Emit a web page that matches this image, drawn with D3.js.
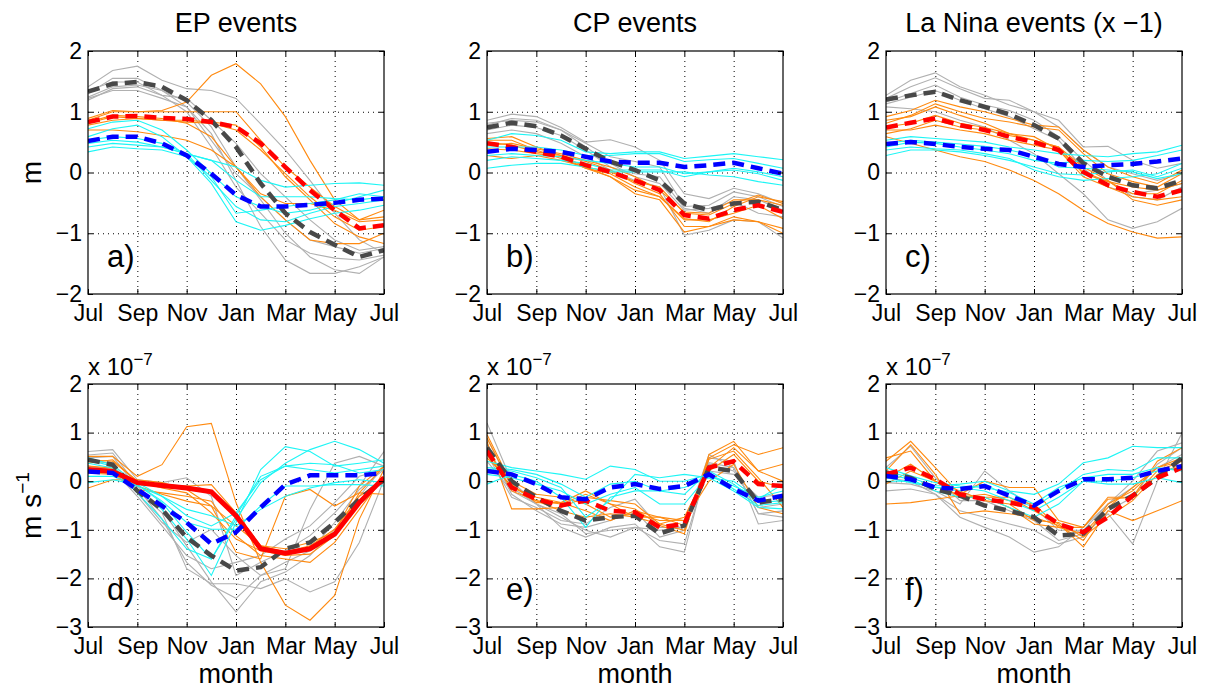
<!DOCTYPE html>
<html>
<head>
<meta charset="utf-8">
<script src="https://cdn.jsdelivr.net/npm/d3@7"></script>
<style>
body { margin: 0; background: #fff; }
text { font-family: "Liberation Sans", Arial, Helvetica, sans-serif; fill: #000; }
</style>
</head>
<body>
<div id="chart"></div>
<script>
// month index 0..12 = Jul .. Jul
var tickMonths = [0, 2, 4, 6, 8, 10, 12];
var tickLabels = ["Jul", "Sep", "Nov", "Jan", "Mar", "May", "Jul"];
var titles = ["EP events", "CP events", "La Nina events (x \u22121)"];
var letters = ["a)", "b)", "c)", "d)", "e)", "f)"];

// ---- a) EP, sea level (m)
var aGray = [
  [1.41,1.68,1.75,1.52,1.38,1.35,1.22,0.80,0.37,-0.13,-0.67,-1.11,-1.33],
  [1.24,1.41,1.44,1.35,1.16,0.75,0.09,-0.45,-1.00,-1.39,-1.60,-1.66,-1.39],
  [1.30,1.55,1.55,1.35,1.08,0.64,-0.13,-0.89,-1.44,-1.66,-1.66,-1.55,-1.39],
  [1.35,1.49,1.49,1.27,1.00,0.42,-0.24,-0.67,-1.11,-1.33,-1.41,-1.44,-1.36],
  [1.19,1.38,1.41,1.27,1.22,0.86,0.48,-0.02,-0.40,-0.78,-1.11,-1.28,-1.22],
  [1.22,1.35,1.35,1.22,1.08,0.53,-0.02,-0.40,-0.78,-1.11,-1.22,-1.33,-1.25]
];
var aOrange = [
  [0.86,1.00,1.00,1.02,1.16,1.60,1.79,1.46,0.92,0.20,-0.45,-0.78,-0.62],
  [0.89,1.02,1.00,1.00,1.00,1.00,1.00,0.53,0.09,-0.24,-0.56,-0.78,-0.73],
  [0.81,0.92,0.89,0.86,0.83,0.81,0.70,0.37,-0.02,-0.40,-0.73,-0.95,-0.89],
  [0.78,0.86,0.89,0.86,0.86,0.83,0.78,0.42,-0.07,-0.45,-0.84,-1.06,-1.17],
  [0.70,0.70,0.67,0.61,0.53,0.37,0.09,-0.35,-0.51,-0.51,-0.62,-0.81,-0.78],
  [0.83,0.94,0.92,0.89,0.81,0.59,0.09,-0.40,-0.78,-1.11,-1.17,-1.17,-1.00]
];
var aCyan = [
  [0.72,0.83,0.86,0.70,0.37,-0.02,-0.40,-0.56,-0.67,-0.62,-0.51,-0.40,-0.29],
  [0.53,0.59,0.56,0.48,0.31,-0.13,-0.56,-0.78,-0.81,-0.67,-0.56,-0.51,-0.45],
  [0.42,0.48,0.45,0.42,0.31,0.20,0.09,-0.13,-0.24,-0.21,-0.18,-0.17,-0.21],
  [0.34,0.42,0.39,0.37,0.26,-0.18,-0.81,-0.95,-0.87,-0.76,-0.67,-0.62,-0.54],
  [0.48,0.53,0.50,0.42,0.31,0.20,-0.13,-0.40,-0.40,-0.40,-0.43,-0.45,-0.40],
  [0.59,0.72,0.78,0.59,0.26,-0.07,-0.67,-0.62,-0.56,-0.51,-0.45,-0.35,-0.40]
];
var aGrayMean = [1.33,1.46,1.49,1.41,1.19,0.86,0.42,-0.18,-0.67,-0.98,-1.19,-1.39,-1.28];
var aRedMean  = [0.83,0.92,0.93,0.90,0.88,0.83,0.75,0.48,0.09,-0.29,-0.62,-0.92,-0.87];
var aBlueMean = [0.52,0.59,0.59,0.48,0.28,-0.02,-0.37,-0.56,-0.56,-0.53,-0.50,-0.45,-0.43];

// ---- b) CP, sea level
var bGray = [
  [0.86,0.96,0.92,0.74,0.50,0.54,0.42,0.20,-0.35,-0.43,-0.26,-0.35,-0.51],
  [0.78,0.89,0.86,0.70,0.48,0.26,0.18,0.09,-0.56,-0.54,-0.32,-0.40,-0.56],
  [0.70,0.78,0.74,0.61,0.37,0.09,-0.02,-0.07,-0.59,-0.67,-0.40,-0.45,-0.62],
  [0.64,0.70,0.64,0.48,0.26,0.04,-0.13,-0.24,-1.03,-0.95,-0.78,-0.81,-1.08],
  [0.81,0.86,0.83,0.70,0.42,0.15,-0.07,-0.18,-0.62,-0.59,-0.48,-0.67,-0.73]
];
var bOrange = [
  [0.56,0.59,0.42,0.28,0.18,0.04,-0.18,-0.35,-0.89,-0.89,-0.73,-0.81,-0.92],
  [0.53,0.53,0.37,0.23,0.07,-0.07,-0.35,-0.45,-0.98,-0.89,-0.78,-0.81,-1.00],
  [0.45,0.48,0.39,0.31,0.20,0.09,-0.07,-0.29,-0.65,-0.67,-0.45,-0.45,-0.54],
  [0.39,0.37,0.31,0.26,0.07,-0.02,-0.24,-0.40,-0.76,-0.81,-0.56,-0.40,-0.48],
  [0.28,0.23,0.28,0.20,0.09,0.01,-0.15,-0.24,-0.67,-0.70,-0.51,-0.37,-0.51],
  [0.50,0.45,0.34,0.28,0.09,-0.07,-0.29,-0.40,-0.78,-0.78,-0.67,-0.54,-0.76]
];
var bCyan = [
  [0.53,0.64,0.61,0.53,0.34,0.31,0.34,0.34,0.23,0.27,0.31,0.26,0.21],
  [0.42,0.42,0.42,0.37,0.28,0.28,0.31,0.31,0.18,0.21,0.23,0.15,0.07],
  [0.28,0.31,0.28,0.26,0.20,0.15,0.09,0.09,-0.02,0.01,0.04,-0.02,-0.13],
  [0.07,0.12,0.15,0.15,0.09,0.01,0.01,0.01,0.01,-0.04,-0.07,-0.15,-0.21],
  [0.20,0.26,0.23,0.20,0.15,0.04,0.04,0.04,-0.07,0.01,0.07,0.01,-0.07]
];
var bGrayMean = [0.74,0.82,0.76,0.61,0.39,0.18,0.04,-0.13,-0.51,-0.62,-0.51,-0.48,-0.62];
var bRedMean  = [0.48,0.42,0.34,0.26,0.12,0.01,-0.13,-0.29,-0.70,-0.76,-0.62,-0.54,-0.65];
var bBlueMean = [0.34,0.39,0.37,0.34,0.26,0.18,0.16,0.16,0.09,0.12,0.16,0.07,-0.02];

// ---- c) La Nina (x -1), sea level
var cGray = [
  [1.27,1.52,1.64,1.41,1.27,1.11,1.00,0.86,0.42,0.43,0.20,0.07,0.15],
  [1.22,1.41,1.56,1.38,1.22,1.19,1.00,0.75,0.37,0.09,-0.02,-0.13,-0.02],
  [1.13,1.24,1.35,1.19,1.05,0.92,0.72,0.53,0.07,-0.24,-0.35,-0.29,-0.18],
  [1.08,1.05,1.00,0.86,0.75,0.53,0.31,-0.02,-0.35,-0.78,-0.92,-0.81,-0.59],
  [1.16,1.30,1.44,1.24,1.11,1.02,0.86,0.59,0.20,-0.13,-0.40,-0.45,-0.24]
];
var cOrange = [
  [0.92,1.02,1.19,1.08,1.00,0.89,0.78,0.75,0.37,0.09,-0.07,-0.18,0.04],
  [0.81,0.94,1.13,1.00,0.89,0.83,0.75,0.70,0.31,-0.02,-0.15,-0.24,-0.02],
  [0.70,0.70,0.78,0.70,0.64,0.53,0.45,0.37,-0.07,-0.24,-0.40,-0.45,-0.40],
  [0.59,0.48,0.37,0.26,0.18,0.04,-0.13,-0.35,-0.62,-0.84,-0.98,-1.08,-1.06],
  [0.64,0.72,0.86,0.75,0.70,0.61,0.53,0.42,0.09,-0.13,-0.45,-0.54,-0.45],
  [0.86,0.92,1.08,0.94,0.81,0.64,0.53,0.42,-0.02,-0.15,-0.24,-0.29,-0.18],
  [0.75,0.81,0.94,0.81,0.74,0.64,0.59,0.37,0.01,-0.15,-0.35,-0.35,-0.13]
];
var cCyan = [
  [0.53,0.59,0.56,0.53,0.50,0.42,0.37,0.31,0.28,0.26,0.31,0.34,0.45],
  [0.42,0.50,0.48,0.42,0.37,0.31,0.20,0.15,0.20,0.18,0.20,0.28,0.37],
  [0.28,0.37,0.37,0.34,0.28,0.20,0.09,-0.02,-0.04,0.01,0.04,-0.07,0.07],
  [0.37,0.42,0.39,0.37,0.31,0.23,0.04,-0.07,-0.13,-0.10,-0.07,-0.02,0.15],
  [0.48,0.53,0.50,0.47,0.43,0.37,0.28,0.09,0.07,0.04,0.01,-0.10,-0.02]
];
var cGrayMean = [1.20,1.27,1.33,1.19,1.08,0.96,0.78,0.56,0.15,-0.07,-0.21,-0.26,-0.13];
var cRedMean  = [0.74,0.82,0.89,0.78,0.70,0.59,0.50,0.37,0.01,-0.21,-0.32,-0.40,-0.29];
var cBlueMean = [0.47,0.50,0.47,0.42,0.39,0.37,0.26,0.14,0.09,0.12,0.14,0.18,0.23];

// ---- d) EP, m s^-1 (x 1e-7)
var dGray = [
  [0.61,0.65,0.03,-0.03,0.07,-0.31,-1.94,-1.67,-1.43,-1.12,-0.65,-0.10,0.61],
  [0.54,0.58,-0.10,-0.58,-1.33,-2.07,-2.69,-2.07,-1.87,-1.53,-0.99,-0.31,0.31],
  [0.48,0.51,-0.14,-0.78,-1.67,-2.14,-2.41,-1.94,-1.67,-1.43,-0.85,-0.17,0.24],
  [0.41,0.37,-0.20,-0.65,-1.80,-2.11,-2.11,-2.21,-2.01,-2.28,-2.07,-1.26,0.03],
  [0.31,0.24,-0.31,-0.92,-1.53,-1.80,-1.67,-1.53,-1.19,-0.92,-0.44,0.10,0.24],
  [0.24,0.31,-0.24,-0.85,-1.26,-0.99,-1.53,-1.94,-1.80,-0.58,0.37,0.51,0.31]
];
var dOrange = [
  [0.51,0.51,0.10,0.34,1.12,1.19,-0.44,-1.67,-2.55,-2.86,-2.35,-0.78,0.24],
  [0.44,0.41,0.00,-0.07,-0.10,-0.07,-0.65,-1.33,-1.39,-1.26,-1.05,-0.10,0.31],
  [0.31,0.27,-0.10,-0.27,-0.41,-0.51,-0.92,-1.33,-1.46,-1.33,-0.99,-0.31,0.03],
  [0.17,0.14,-0.17,-0.24,-0.31,-0.41,-1.12,-1.53,-1.60,-1.67,-1.26,-0.58,0.10],
  [-0.14,0.03,0.03,-0.03,-0.17,-0.51,-1.46,-1.60,-0.31,-0.17,-0.51,-0.24,-0.27],
  [0.37,0.44,0.00,-0.14,-0.24,-0.65,-1.19,-1.43,-1.53,-1.50,-1.12,-0.24,0.31]
];
var dCyan = [
  [0.44,0.31,-0.17,-0.58,-1.19,-1.94,-0.85,0.24,0.71,0.61,0.31,0.37,0.44],
  [0.37,0.27,-0.24,-0.78,-1.39,-1.60,-0.78,-0.03,0.37,0.65,0.82,0.65,0.37],
  [0.24,0.24,-0.03,-0.31,-0.71,-0.92,-0.65,0.03,0.31,0.24,0.17,0.24,0.31],
  [0.10,0.10,-0.10,-0.31,-0.58,-0.71,-0.92,-0.58,-0.31,-0.14,-0.03,0.03,-0.03],
  [-0.03,0.03,-0.07,-0.41,-0.85,-0.99,-0.99,-0.51,-0.10,-0.10,-0.07,-0.07,-0.10],
  [0.48,0.34,-0.07,-0.44,-1.05,-1.60,-0.71,0.10,0.31,0.37,0.34,0.17,0.24]
];
var dGrayMean = [0.44,0.34,-0.20,-0.58,-1.16,-1.53,-1.84,-1.77,-1.39,-1.26,-0.85,-0.37,0.03];
var dRedMean  = [0.24,0.20,-0.03,-0.09,-0.14,-0.22,-0.71,-1.39,-1.48,-1.39,-1.09,-0.44,0.07];
var dBlueMean = [0.20,0.17,-0.17,-0.51,-0.85,-1.29,-1.05,-0.54,-0.07,0.12,0.12,0.12,0.17];

// ---- e) CP, m s^-1
var eGray = [
  [1.20,0.00,-0.47,-0.95,-1.15,-0.95,-0.88,-1.35,-1.46,0.48,0.41,-0.88,-0.81],
  [0.89,-0.13,-0.47,-0.74,-1.01,-1.15,-0.95,-1.22,-1.29,0.38,0.28,-0.67,-0.61],
  [0.76,-0.27,-0.61,-0.88,-0.95,-0.81,-0.61,-1.15,-1.01,0.35,0.21,-0.54,-0.47],
  [0.55,-0.33,-0.54,-0.81,-0.88,-0.54,-0.37,-0.95,-0.95,0.21,0.14,-0.33,-0.27],
  [0.41,-0.20,-0.47,-0.67,-1.08,-1.01,-0.95,-1.01,-0.95,0.55,0.28,-0.67,-0.74]
];
var eOrange = [
  [0.96,-0.06,-0.44,-0.44,-0.20,-0.47,-0.57,-0.91,-1.08,0.55,0.82,0.21,0.00],
  [0.82,-0.57,-0.57,-0.54,-0.33,-0.40,-0.47,-0.88,-1.01,0.48,0.75,0.55,0.69],
  [0.69,-0.20,-0.40,-0.61,-0.74,-0.67,-0.74,-0.88,-0.74,0.28,0.69,0.21,0.35],
  [0.55,-0.13,-0.33,-0.44,-0.61,-0.81,-0.61,-0.74,-0.81,0.21,0.55,0.00,-0.13],
  [0.48,0.00,-0.27,-0.33,-0.47,-0.74,-0.67,-0.81,-0.81,0.00,0.35,-0.54,-0.67],
  [0.89,-0.10,-0.40,-0.47,-0.27,-0.47,-0.74,-0.74,-0.91,0.45,0.62,0.07,-0.54]
];
var eCyan = [
  [0.41,0.28,0.21,0.14,0.04,0.31,0.24,0.00,0.00,0.14,-0.10,-0.33,-0.20],
  [0.28,0.24,0.14,-0.06,-0.33,-0.06,0.00,-0.20,-0.27,0.21,-0.06,-0.44,-0.40],
  [0.14,0.07,-0.06,-0.20,-0.47,-0.27,-0.13,-0.47,-0.47,0.14,-0.16,-0.50,-0.44],
  [-0.06,0.14,0.00,-0.33,-0.95,-0.33,-0.20,-0.20,-0.13,0.07,-0.20,-0.54,-0.57],
  [0.24,0.21,0.07,-0.13,-0.74,-0.40,0.14,0.07,0.14,0.07,0.00,-0.37,-0.06]
];
var eGrayMean = [0.69,0.00,-0.33,-0.61,-0.81,-0.74,-0.71,-1.08,-0.91,0.28,0.21,-0.44,-0.37];
var eRedMean  = [0.62,-0.13,-0.37,-0.50,-0.40,-0.61,-0.64,-0.95,-0.88,0.28,0.41,-0.06,-0.10];
var eBlueMean = [0.21,0.14,-0.06,-0.33,-0.37,-0.13,-0.06,-0.16,-0.10,0.14,-0.16,-0.40,-0.30];

// ---- f) La Nina (x -1), m s^-1
var fGray = [
  [0.28,0.72,0.07,-0.40,-0.40,-0.61,-0.81,-1.22,-1.08,-0.67,-1.29,0.00,0.99],
  [0.07,0.00,-0.27,-0.74,-0.95,-1.15,-1.46,-1.35,-0.95,-0.47,0.00,0.62,0.79],
  [-0.20,-0.16,-0.27,-0.61,-0.74,-0.88,-1.01,-1.29,-1.15,-0.61,-0.33,0.35,0.69],
  [-0.03,-0.06,-0.20,-0.47,0.21,-0.20,-0.54,-1.01,-1.01,-0.47,-0.13,0.28,0.55]
];
var fOrange = [
  [0.41,0.82,0.28,-0.27,0.00,-0.13,-0.13,-0.81,-0.95,-0.37,-0.33,0.41,0.69],
  [-0.47,-0.44,-0.37,-0.30,-0.33,-0.33,-0.61,-0.88,-1.35,-0.61,-0.81,-0.61,-0.40],
  [0.21,0.75,0.14,-0.67,-0.61,-0.67,-0.74,-0.91,-1.22,-0.47,-0.20,0.28,0.48],
  [-0.06,0.21,0.00,-0.33,-0.27,-0.40,-0.47,-0.95,-0.95,-0.33,-0.33,0.21,0.41],
  [0.48,0.62,0.00,-0.20,-0.40,-0.47,-0.81,-0.85,-1.15,-0.74,-0.40,0.14,0.35],
  [0.07,0.35,0.00,-0.33,-0.33,-0.54,-0.88,-0.95,-1.08,-0.54,-0.13,0.28,0.41]
];
var fCyan = [
  [0.21,0.07,-0.10,-0.06,0.00,-0.20,-0.27,-0.06,0.38,0.48,0.72,0.69,0.69],
  [0.07,-0.03,-0.13,-0.20,-0.06,-0.33,-0.54,-0.20,0.14,0.24,0.21,0.48,0.48],
  [0.14,0.04,-0.20,-0.33,-0.33,-0.54,-0.74,-0.47,0.00,0.00,0.07,0.21,0.28],
  [0.00,0.00,-0.13,-0.13,-0.20,-0.40,-0.61,-0.33,0.00,-0.06,-0.06,0.07,-0.03],
  [0.28,0.11,-0.03,-0.10,-0.13,-0.23,-0.47,-0.13,0.07,0.14,0.14,0.28,0.21]
];
var fGrayMean = [0.18,0.07,-0.16,-0.30,-0.50,-0.61,-0.74,-1.12,-1.08,-0.57,-0.30,0.07,0.48];
var fRedMean  = [0.14,0.28,0.04,-0.27,-0.37,-0.44,-0.54,-0.88,-1.05,-0.74,-0.30,0.07,0.28];
var fBlueMean = [0.11,0.04,-0.13,-0.16,-0.10,-0.30,-0.50,-0.20,0.04,0.04,0.07,0.21,0.31];

// layout
var W = 1206, H = 691;
var colLeft = [88, 487, 886], pw = 296;
var rows = [
  {top: 51, h: 243, domain: [-2, 2]},
  {top: 384, h: 243, domain: [-3, 2]}
];
var panels = [
  {row: 0, col: 0, gray: aGray, orange: aOrange, cyan: aCyan, gm: aGrayMean, rm: aRedMean, bm: aBlueMean},
  {row: 0, col: 1, gray: bGray, orange: bOrange, cyan: bCyan, gm: bGrayMean, rm: bRedMean, bm: bBlueMean},
  {row: 0, col: 2, gray: cGray, orange: cOrange, cyan: cCyan, gm: cGrayMean, rm: cRedMean, bm: cBlueMean},
  {row: 1, col: 0, gray: dGray, orange: dOrange, cyan: dCyan, gm: dGrayMean, rm: dRedMean, bm: dBlueMean, redSolid: true},
  {row: 1, col: 1, gray: eGray, orange: eOrange, cyan: eCyan, gm: eGrayMean, rm: eRedMean, bm: eBlueMean},
  {row: 1, col: 2, gray: fGray, orange: fOrange, cyan: fCyan, gm: fGrayMean, rm: fRedMean, bm: fBlueMean}
];

var svg = d3.select("#chart").append("svg")
  .attr("width", W)
  .attr("height", H);

var x = d3.scaleLinear().domain([0, 12]).range([0, pw]);

panels.forEach(function(p, k) {
  var r = rows[p.row];
  var y = d3.scaleLinear().domain(r.domain).range([r.h, 0]);
  var yTicks = d3.range(r.domain[0], r.domain[1] + 1);
  var g = svg.append("g")
    .attr("transform", "translate(" + colLeft[p.col] + "," + r.top + ")");

  g.append("clipPath").attr("id", "clip" + k)
    .append("rect").attr("width", pw).attr("height", r.h);

  // dotted grid
  var grid = g.append("g").attr("stroke", "#000").attr("stroke-width", 1)
    .attr("stroke-dasharray", "1,4");
  grid.selectAll(".gx").data(tickMonths.slice(1, -1)).enter().append("line")
    .attr("x1", function(d) { return x(d) + 0.5; })
    .attr("x2", function(d) { return x(d) + 0.5; })
    .attr("y1", 0).attr("y2", r.h);
  grid.selectAll(".gy").data(yTicks.slice(1, -1)).enter().append("line")
    .attr("y1", function(d) { return y(d) + 0.5; })
    .attr("y2", function(d) { return y(d) + 0.5; })
    .attr("x1", 0).attr("x2", pw);

  var line = d3.line()
    .x(function(d, i) { return x(i); })
    .y(function(d) { return y(d); });

  var lines = g.append("g").attr("clip-path", "url(#clip" + k + ")")
    .attr("fill", "none").attr("stroke-linejoin", "miter");

  function thin(data, color) {
    lines.selectAll(null).data(data).enter().append("path")
      .attr("d", line)
      .attr("stroke", color)
      .attr("stroke-width", 1.1);
  }
  thin(p.gray, "#b0b0b0");
  thin(p.orange, "#ff8a10");
  thin(p.cyan, "#1ef5f5");

  function thick(data, color, dashed, w) {
    lines.append("path").datum(data)
      .attr("d", line)
      .attr("stroke", color)
      .attr("stroke-width", w)
      .attr("stroke-dasharray", dashed ? "12,7" : null);
  }
  thick(p.gm, "#484848", true, 4.5);
  if (p.redSolid) thick(p.rm, "#ff0000", false, 5);
  else thick(p.rm, "#ff0000", true, 4.5);
  thick(p.bm, "#0000ff", true, 4.5);

  // axes with inward ticks
  g.append("g").attr("transform", "translate(0," + r.h + ")")
    .call(d3.axisBottom(x).tickValues(tickMonths)
      .tickFormat(function(d, i) { return tickLabels[i]; })
      .tickSizeInner(-5).tickSizeOuter(0).tickPadding(11));
  g.append("g")
    .call(d3.axisTop(x).tickValues(tickMonths).tickFormat("")
      .tickSizeInner(-5).tickSizeOuter(0));
  g.append("g")
    .call(d3.axisLeft(y).tickValues(yTicks).tickFormat(d3.format("d"))
      .tickSizeInner(-5).tickSizeOuter(0).tickPadding(6));
  g.append("g").attr("transform", "translate(" + pw + ",0)")
    .call(d3.axisRight(y).tickValues(yTicks).tickFormat("")
      .tickSizeInner(-5).tickSizeOuter(0));
  g.selectAll(".domain").remove();
  g.selectAll(".tick line").attr("stroke", "#000");
  g.selectAll(".tick text").attr("font-size", 23)
    .attr("font-family", "Liberation Sans, Arial, sans-serif");

  g.append("rect").attr("width", pw).attr("height", r.h)
    .attr("fill", "none").attr("stroke", "#000").attr("stroke-width", 1.2);

  // panel letter
  g.append("text").attr("x", 19).attr("y", r.h - 27)
    .attr("font-size", 31).text(letters[k]);

  if (p.row === 0) {
    g.append("text").attr("x", pw / 2).attr("y", -19)
      .attr("text-anchor", "middle").attr("font-size", 27)
      .text(titles[p.col]);
  } else {
    var t = g.append("text").attr("x", 0).attr("y", -9).attr("font-size", 24);
    t.append("tspan").text("x 10");
    t.append("tspan").attr("font-size", 17).attr("dy", -10).text("\u22127");
    g.append("text").attr("x", pw / 2).attr("y", r.h + 56)
      .attr("text-anchor", "middle").attr("font-size", 27).text("month");
  }
});

// y labels
svg.append("text")
  .attr("transform", "translate(41," + (rows[0].top + rows[0].h / 2) + ") rotate(-90)")
  .attr("text-anchor", "middle").attr("font-size", 28).text("m");
var yl2 = svg.append("text")
  .attr("transform", "translate(41," + (rows[1].top + rows[1].h / 2) + ") rotate(-90)")
  .attr("text-anchor", "middle").attr("font-size", 28);
yl2.append("tspan").text("m s");
yl2.append("tspan").attr("font-size", 19).attr("dy", -12).text("\u22121");
</script>
</body>
</html>
